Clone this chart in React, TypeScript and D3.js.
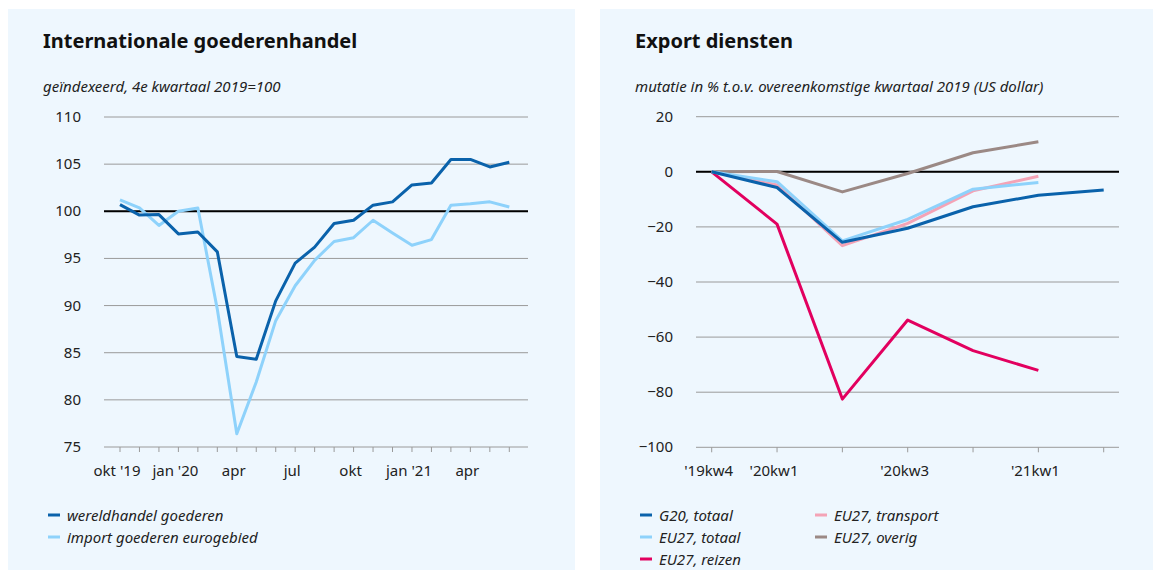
import * as d3 from 'd3'

// Internationale goederenhandel, index 2019kw4 = 100
const months = ['2019-10', '2019-11', '2019-12', '2020-01', '2020-02', '2020-03', '2020-04', '2020-05', '2020-06', '2020-07', '2020-08', '2020-09', '2020-10', '2020-11', '2020-12', '2021-01', '2021-02', '2021-03', '2021-04', '2021-05', '2021-06']
const monthLabels = ["okt '19", '', '', "jan '20", '', '', 'apr', '', '', 'jul', '', '', 'okt', '', '', "jan '21", '', '', 'apr', '', '']
const wereldhandel = [100.7, 99.6, 99.65, 97.6, 97.8, 95.7, 84.6, 84.3, 90.5, 94.5, 96.2, 98.7, 99.05, 100.65, 101.0, 102.8, 103.0, 105.5, 105.5, 104.7, 105.2]
const importEuro = [101.2, 100.35, 98.5, 100.0, 100.35, 89.6, 76.4, 81.9, 88.4, 92.1, 94.8, 96.8, 97.2, 99.05, 97.7, 96.4, 97.0, 100.65, 100.8, 101.0, 100.45]
const leftTicks = [75, 80, 85, 90, 95, 100, 105, 110]

// Export diensten, % mutatie t.o.v. 2019
const quarters = ['2019kw4', '2020kw1', '2020kw2', '2020kw3', '2020kw4', '2021kw1', '2021kw2']
const quarterLabels = ["'19kw4", "'20kw1", '', "'20kw3", '', "'21kw1", '']
const g20Totaal = [0, -5.7, -25.6, -20.5, -12.7, -8.5, -6.6]
const eu27Totaal = [0, -3.6, -25.1, -17.3, -6.3, -3.9]
const eu27Transport = [0, -4.8, -26.8, -18.7, -6.9, -1.6]
const eu27Overig = [0, 0.1, -7.3, -0.6, 6.9, 10.9]
const eu27Reizen = [0, -19.0, -82.5, -53.8, -64.9, -72.1]
const rightTicks = [-100, -80, -60, -40, -20, 0, 20]

const BG = '#eef7fe'
const DARK = '#0a62ab'
const LIGHT = '#8ed2fb'
const MAGENTA = '#e2005f'
const PINK = '#f4a3b6'
const TAUPE = '#9b8985'
const GRID = '#9a9a9a'
const FONT = '"Noto Sans", sans-serif'

const fmtMinus = (v: number) => (v < 0 ? '\u2212' + Math.abs(v) : String(v))

function Panel({ title, subtitle, x0, width }: { title: string; subtitle: string; x0: number; width: number }) {
  return (
    <g>
      <rect x={x0} y={9} width={width} height={561} fill={BG} />
      <text x={x0 + 35} y={48} fontSize={20} fontWeight={700} fill="#111">{title}</text>
      <text x={x0 + 35} y={92} fontSize={15} fontStyle="italic" fill="#222">{subtitle}</text>
    </g>
  )
}

export default function App() {
  // left chart scales
  const xL = d3.scalePoint<number>().domain(d3.range(months.length)).range([120, 509.3])
  const yL = d3.scaleLinear().domain([75, 110]).range([447, 117])
  const lineL = d3.line<number>().x((_, i) => xL(i)!).y(d => yL(d))

  // right chart scales
  const xR = d3.scalePoint<number>().domain(d3.range(quarters.length)).range([711.7, 1103.7])
  const yR = d3.scaleLinear().domain([-100, 20]).range([447.3, 116.7])
  const lineR = d3.line<number>().x((_, i) => xR(i)!).y(d => yR(d))

  const rightSeries = [
    { name: 'EU27, overig', data: eu27Overig, color: TAUPE },
    { name: 'EU27, reizen', data: eu27Reizen, color: MAGENTA },
    { name: 'EU27, transport', data: eu27Transport, color: PINK },
    { name: 'EU27, totaal', data: eu27Totaal, color: LIGHT },
    { name: 'G20, totaal', data: g20Totaal, color: DARK },
  ]
  const rightLegend = [
    { name: 'G20, totaal', color: DARK, col: 0, row: 0 },
    { name: 'EU27, totaal', color: LIGHT, col: 0, row: 1 },
    { name: 'EU27, reizen', color: MAGENTA, col: 0, row: 2 },
    { name: 'EU27, transport', color: PINK, col: 1, row: 0 },
    { name: 'EU27, overig', color: TAUPE, col: 1, row: 1 },
  ]

  return (
    <div style={{ position: 'absolute', left: 0, top: 0 }}>
      <svg width={1153} height={570} style={{ display: 'block', fontFamily: FONT }}>
        <rect width={1153} height={570} fill="#fff" />

        {/* ---------- left panel ---------- */}
        <Panel title="Internationale goederenhandel" subtitle="geïndexeerd, 4e kwartaal 2019=100" x0={8} width={567} />
        {leftTicks.map(t => (
          <g key={t}>
            <line x1={104} x2={528} y1={yL(t)} y2={yL(t)} stroke={GRID} strokeWidth={1} />
            <text x={81} y={yL(t) + 5} fontSize={15} textAnchor="end" fill="#222">{t}</text>
          </g>
        ))}
        <line x1={104} x2={528} y1={yL(100)} y2={yL(100)} stroke="#000" strokeWidth={2} />
        {months.map((m, i) => (
          <g key={m}>
            <line x1={xL(i)} x2={xL(i)} y1={yL(75)} y2={yL(75) + 5} stroke={GRID} strokeWidth={1} />
            {monthLabels[i] && (
              <text x={xL(i)! - 3} y={476} fontSize={15} textAnchor="middle" fill="#222">{monthLabels[i]}</text>
            )}
          </g>
        ))}
        <path d={lineL(importEuro)!} fill="none" stroke={LIGHT} strokeWidth={3} strokeLinejoin="round" />
        <path d={lineL(wereldhandel)!} fill="none" stroke={DARK} strokeWidth={3} strokeLinejoin="round" />

        {[
          { name: 'wereldhandel goederen', color: DARK },
          { name: 'import goederen eurogebied', color: LIGHT },
        ].map((s, i) => (
          <g key={s.name} transform={`translate(48,${515 + i * 22})`}>
            <line x1={0} x2={12} y1={0} y2={0} stroke={s.color} strokeWidth={3} />
            <text x={19} y={5.5} fontSize={15} fontStyle="italic" fill="#222">{s.name}</text>
          </g>
        ))}

        {/* ---------- right panel ---------- */}
        <Panel title="Export diensten" subtitle="mutatie in % t.o.v. overeenkomstige kwartaal 2019 (US dollar)" x0={600} width={553} />
        {rightTicks.map(t => (
          <g key={t}>
            <line x1={696} x2={1119} y1={yR(t)} y2={yR(t)} stroke={GRID} strokeWidth={1} />
            <text x={673} y={yR(t) + 5} fontSize={15} textAnchor="end" fill="#222">{fmtMinus(t)}</text>
          </g>
        ))}
        <line x1={696} x2={1119} y1={yR(0)} y2={yR(0)} stroke="#000" strokeWidth={2} />
        {quarters.map((q, i) => (
          <g key={q}>
            <line x1={xR(i)} x2={xR(i)} y1={yR(-100)} y2={yR(-100) + 5} stroke={GRID} strokeWidth={1} />
            {quarterLabels[i] && (
              <text x={xR(i)! - 3} y={476} fontSize={15} textAnchor="middle" fill="#222">{quarterLabels[i]}</text>
            )}
          </g>
        ))}
        {rightSeries.map(s => (
          <path key={s.name} d={lineR(s.data)!} fill="none" stroke={s.color} strokeWidth={3} strokeLinejoin="round" />
        ))}
        {rightLegend.map(s => (
          <g key={s.name} transform={`translate(${640 + s.col * 175},${515 + s.row * 22})`}>
            <line x1={0} x2={12} y1={0} y2={0} stroke={s.color} strokeWidth={3} />
            <text x={19} y={5.5} fontSize={15} fontStyle="italic" fill="#222">{s.name}</text>
          </g>
        ))}
      </svg>
    </div>
  )
}
